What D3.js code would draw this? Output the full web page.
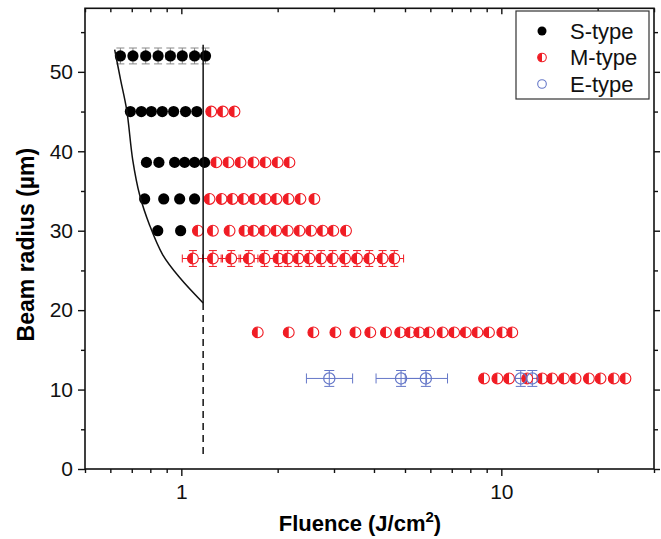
<!DOCTYPE html>
<html>
<head>
<meta charset="utf-8">
<script src="https://cdn.jsdelivr.net/npm/d3@7"></script>
<style>
  body { margin: 0; background: #fff; }
  text { font-family: "Liberation Sans", Arial, sans-serif; }
</style>
</head>
<body>
<svg id="chart" width="661" height="539"></svg>
<script>
// ---- data: fluence (J/cm^2) at each beam radius (µm) ----
const sTypeRadius = [52, 45, 38.6, 34, 30];
const sTypeFluence = [
  [0.645, 0.706, 0.774, 0.846, 0.924, 1.007, 1.10, 1.19],
  [0.693, 0.750, 0.806, 0.872, 0.946, 1.031, 1.118],
  [0.778, 0.851, 0.953, 1.024, 1.10, 1.182],
  [0.768, 0.881, 0.988, 1.10],
  [0.844, 0.995]
];
// error bars on the 52 µm S-type series
const sType52XErr = [0.02, 0.02, 0.025, 0.025, 0.03, 0.03, 0.035, 0.035];
const sType52YErr = 1.0;

const mTypeRadius = [45, 38.6, 34, 30, 26.5, 17.2, 11.4];
const mTypeFluence = [
  [1.24, 1.348, 1.466],
  [1.286, 1.404, 1.531, 1.681, 1.832, 2.0, 2.177],
  [1.225, 1.336, 1.445, 1.564, 1.693, 1.832, 1.983, 2.162, 2.356, 2.605],
  [1.127, 1.255, 1.415, 1.575, 1.681, 1.819, 1.978, 2.15, 2.339, 2.544, 2.765, 2.985, 3.271],
  [1.087, 1.255, 1.432, 1.625, 1.819, 2.012, 2.15, 2.322, 2.513, 2.734, 2.971, 3.248, 3.54, 3.867, 4.255, 4.63],
  [1.733, 2.166, 2.586, 3.03, 3.50, 3.895, 4.36, 4.83, 5.19, 5.54, 5.95, 6.55, 7.12, 7.74, 8.42, 9.15, 10.07, 10.82],
  [8.83, 9.72, 10.57, 12.05, 13.42, 14.42, 15.69, 17.06, 18.78, 20.42, 22.46, 24.43]
];
// error bars on the 26.5 µm M-type series
const mType26XErr = [0.08, 0.09, 0.10, 0.11, 0.13, 0.14, 0.15, 0.16, 0.18, 0.19, 0.21, 0.23, 0.25, 0.27, 0.30, 0.32];
const mType26YErr = 1.0;

const eTypeRadius = 11.4;
const eTypeFluence = [2.90, 4.86, 5.81, 11.5, 12.5];
const eTypeXErrLow = [0.44, 0.80, 0.80, 1.80, 1.80];
const eTypeXErrHigh = [0.53, 0.98, 0.98, 1.90, 1.90];
const eTypeYErr = 1.0;

// threshold boundary: curved edge and vertical limit
const boundaryCurve = [
  [0.619, 52.8], [0.646, 49.0], [0.675, 45.2], [0.705, 38.9], [0.741, 34.5],
  [0.796, 30.7], [0.874, 27.0], [0.988, 24.1], [1.17, 20.9]
];
const limitFluence = 1.17;
const limitTop = 53.4;
const limitKnee = 20.9;
const limitBottom = 1.5;

const xMajorTicks = [1, 10];
const xMinorTicks = [0.5, 0.6, 0.7, 0.8, 0.9, 2, 3, 4, 5, 6, 7, 8, 9, 20, 30];
const yMajorTicks = [0, 10, 20, 30, 40, 50];
const yMinorTicks = [5, 15, 25, 35, 45, 55];

const legendItems = ["S-type", "M-type", "E-type"];

// ---- layout ----
const pLeft = 85, pRight = 654, pTop = 8.3, pBottom = 469;

const x = d3.scaleLog().domain([0.5, 30]).range([pLeft, pRight]);
const y = d3.scaleLinear().domain([0, 58]).range([pBottom, pTop]);

const svg = d3.select("#chart");
const RED = "#f01c24", BLUE = "#6577c8";

// ---- axes ----
const noDomain = (g) => g.select(".domain").remove();
const tickW = (g) => g.selectAll("line").attr("stroke-width", 1.4).attr("stroke", "#111");

svg.append("g").attr("transform", `translate(0,${pBottom})`)
  .call(d3.axisBottom(x).tickValues(xMajorTicks).tickFormat(d3.format("d")).tickSize(7).tickPadding(8))
  .call(noDomain).call(tickW)
  .call(g => g.selectAll("text").attr("font-size", 21).attr("fill", "#111"));
svg.append("g").attr("transform", `translate(0,${pBottom})`)
  .call(d3.axisBottom(x).tickValues(xMinorTicks).tickFormat("").tickSize(4))
  .call(noDomain).call(tickW);
// top mirror ticks (inside)
svg.append("g").attr("transform", `translate(0,${pTop})`)
  .call(d3.axisBottom(x).tickValues(xMajorTicks).tickFormat("").tickSize(6))
  .call(noDomain).call(tickW);
svg.append("g").attr("transform", `translate(0,${pTop})`)
  .call(d3.axisBottom(x).tickValues(xMinorTicks).tickFormat("").tickSize(4))
  .call(noDomain).call(tickW);

svg.append("g").attr("transform", `translate(${pLeft},0)`)
  .call(d3.axisLeft(y).tickValues(yMajorTicks).tickFormat(d3.format("d")).tickSize(7).tickPadding(5))
  .call(noDomain).call(tickW)
  .call(g => g.selectAll("text").attr("font-size", 21).attr("fill", "#111"));
svg.append("g").attr("transform", `translate(${pLeft},0)`)
  .call(d3.axisLeft(y).tickValues(yMinorTicks).tickFormat("").tickSize(4))
  .call(noDomain).call(tickW);
// right mirror ticks
svg.append("g").attr("transform", `translate(${pRight},0)`)
  .call(d3.axisRight(y).tickValues(yMajorTicks).tickFormat("").tickSize(6))
  .call(noDomain).call(tickW);
svg.append("g").attr("transform", `translate(${pRight},0)`)
  .call(d3.axisRight(y).tickValues(yMinorTicks).tickFormat("").tickSize(4))
  .call(noDomain).call(tickW);

// frame
svg.append("rect").attr("x", pLeft).attr("y", pTop)
  .attr("width", pRight - pLeft).attr("height", pBottom - pTop)
  .attr("fill", "none").attr("stroke", "#111").attr("stroke-width", 1.6);

// axis titles
svg.append("text").attr("transform", `translate(34,${(pTop + pBottom) / 2 + 6}) rotate(-90)`)
  .attr("text-anchor", "middle").attr("font-size", 23).attr("font-weight", "bold")
  .text("Beam radius (µm)");
const xt = svg.append("text").attr("x", 360).attr("y", 531)
  .attr("text-anchor", "middle").attr("font-size", 22).attr("font-weight", "bold");
xt.append("tspan").text("Fluence (J/cm");
xt.append("tspan").attr("font-size", 15).attr("dy", -9).text("2");
xt.append("tspan").attr("dy", 9).text(")");

// ---- error bars ----
const plot = svg.append("g");
function errorBar(g, cx, cy, x0, x1, y0, y1, color, cap) {
  const px = x(cx), py = y(cy);
  const lines = [
    [x(x0), py, x(x1), py],
    [x(x0), py - cap, x(x0), py + cap],
    [x(x1), py - cap, x(x1), py + cap],
    [px, y(y0), px, y(y1)],
    [px - cap, y(y0), px + cap, y(y0)],
    [px - cap, y(y1), px + cap, y(y1)]
  ];
  lines.forEach(l => g.append("line")
    .attr("x1", l[0]).attr("y1", l[1]).attr("x2", l[2]).attr("y2", l[3])
    .attr("stroke", color).attr("stroke-width", 1));
}

sTypeFluence[0].forEach((f, i) =>
  errorBar(plot, f, sTypeRadius[0], f - sType52XErr[i], f + sType52XErr[i],
    sTypeRadius[0] - sType52YErr, sTypeRadius[0] + sType52YErr, "#888", 4));
mTypeFluence[4].forEach((f, i) =>
  errorBar(plot, f, mTypeRadius[4], f - mType26XErr[i], f + mType26XErr[i],
    mTypeRadius[4] - mType26YErr, mTypeRadius[4] + mType26YErr, RED, 4));
eTypeFluence.forEach((f, i) =>
  errorBar(plot, f, eTypeRadius, f - eTypeXErrLow[i], f + eTypeXErrHigh[i],
    eTypeRadius - eTypeYErr, eTypeRadius + eTypeYErr, BLUE, 5));

// ---- markers ----
function halfDisc(g, cx, cy, r) {
  g.append("circle").attr("cx", cx).attr("cy", cy).attr("r", r)
    .attr("fill", "#fff").attr("stroke", RED).attr("stroke-width", 1.1);
  g.append("path")
    .attr("d", `M${cx},${cy - r} A${r},${r} 0 0 0 ${cx},${cy + r} Z`)
    .attr("fill", RED);
}

sTypeFluence.forEach((row, k) => row.forEach(f =>
  plot.append("circle").attr("cx", x(f)).attr("cy", y(sTypeRadius[k])).attr("r", 5.6).attr("fill", "#000")));
mTypeFluence.forEach((row, k) => row.forEach(f =>
  halfDisc(plot, x(f), y(mTypeRadius[k]), 5.4)));
eTypeFluence.forEach(f =>
  plot.append("circle").attr("cx", x(f)).attr("cy", y(eTypeRadius)).attr("r", 5.6)
    .attr("fill", "none").attr("stroke", BLUE).attr("stroke-width", 1.2));

// ---- boundary ----
svg.append("path").datum(boundaryCurve)
  .attr("d", d3.line().x(d => x(d[0])).y(d => y(d[1])).curve(d3.curveCatmullRom))
  .attr("fill", "none").attr("stroke", "#111").attr("stroke-width", 1.5);
svg.append("line").attr("x1", x(limitFluence)).attr("x2", x(limitFluence))
  .attr("y1", y(limitTop)).attr("y2", y(limitKnee))
  .attr("stroke", "#111").attr("stroke-width", 1.5);
svg.append("line").attr("x1", x(limitFluence)).attr("x2", x(limitFluence))
  .attr("y1", y(limitKnee)).attr("y2", y(limitBottom))
  .attr("stroke", "#111").attr("stroke-width", 1.5).attr("stroke-dasharray", "7,5");

// ---- legend ----
const lg = svg.append("g").attr("transform", "translate(516,11)");
lg.append("rect").attr("width", 133).attr("height", 88)
  .attr("fill", "#fff").attr("stroke", "#333").attr("stroke-width", 1.2);
legendItems.forEach((name, i) => {
  const cy = 20 + i * 26.5, cx = 26;
  if (i === 0) lg.append("circle").attr("cx", cx).attr("cy", cy).attr("r", 4.5).attr("fill", "#000");
  if (i === 1) halfDisc(lg, cx, cy, 4.3);
  if (i === 2) lg.append("circle").attr("cx", cx).attr("cy", cy).attr("r", 4.3)
    .attr("fill", "none").attr("stroke", BLUE).attr("stroke-width", 1.1);
  lg.append("text").attr("x", 54).attr("y", cy + 7.5).attr("font-size", 22).attr("fill", "#111").text(name);
});
</script>
</body>
</html>
